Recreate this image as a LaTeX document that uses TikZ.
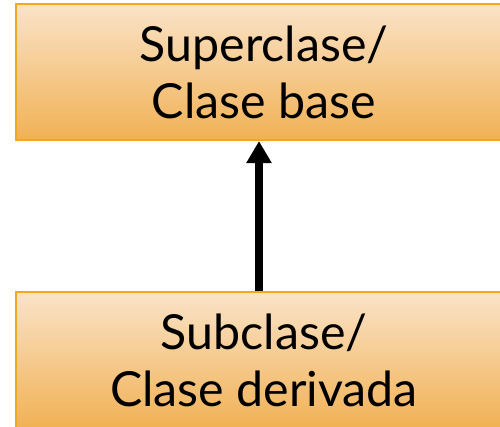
\documentclass[tikz,border=0pt]{standalone}
\usepackage{fontspec}
\setmainfont{Lato}
\usetikzlibrary{arrows.meta,shadings}
\definecolor{boxline}{HTML}{F0A81E}
\definecolor{boxtop}{HTML}{FAE3C8}
\definecolor{boxbot}{HTML}{F1B154}
\begin{document}
\begin{tikzpicture}[
    classbox/.style={draw=boxline,line width=1.2pt,rectangle,top color=boxtop,bottom color=boxbot,
      minimum width=9.92cm,minimum height=2.72cm,align=center,
      font=\fontsize{27.5}{32.5}\selectfont}
  ]
    \useasboundingbox (0,0) rectangle (10,8.52);
    \clip (0,0) rectangle (10,8.52);

    \node[classbox] (super) at (5.28,7.08) {Superclase/\\Clase base};
    \node[classbox] (sub) at (5.28,1.32) {Subclase/\\Clase derivada};

    \draw[-{Triangle[length=0.44cm,width=0.48cm]},line width=4pt] ([xshift=-0.1cm]sub.north) to ([xshift=-0.1cm]super.south);
\end{tikzpicture}
\end{document}
